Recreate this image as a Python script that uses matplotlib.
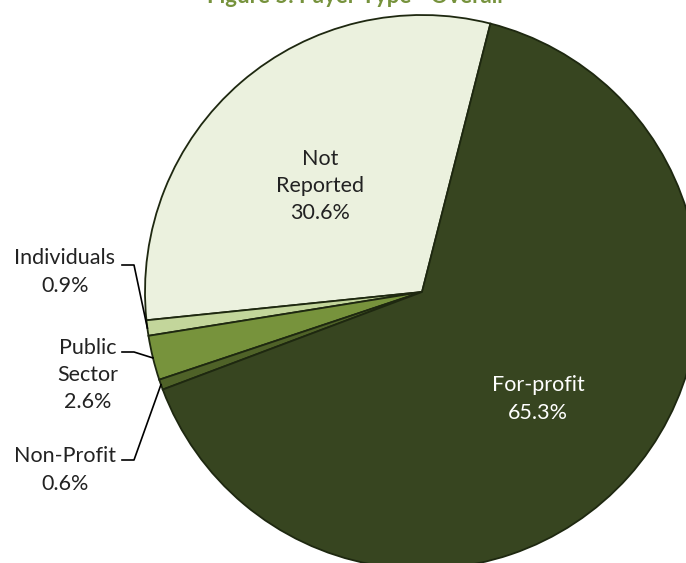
import matplotlib.pyplot as plt
import numpy as np

# Payer type shares (%), counter-clockwise from the top
categories = ['Not Reported', 'Individuals', 'Public Sector', 'Non-Profit', 'For-profit']
label_text = ['Not\nReported', 'Individuals', 'Public\nSector', 'Non-Profit', 'For-profit']
shares = [30.6, 0.9, 2.6, 0.6, 65.3]
colors = ['#EBF1DE', '#C3D69B', '#77933C', '#4F6228', '#374520']

W, H = 686, 563
fig = plt.figure(figsize=(W / 100, H / 100), dpi=100)
ax = fig.add_axes([0, 0, 1, 1])

font = 'Lato'
fs = 15.5
ls = 1.45
cx, cy, r = 422, H - 292, 277
start = 75.7

wedges, _ = ax.pie(shares, colors=colors, startangle=start, counterclock=True,
                   center=(cx, cy), radius=r, frame=True,
                   wedgeprops=dict(edgecolor='#1E2810', linewidth=1.3))
ax.set_xlim(0, W)
ax.set_ylim(0, H)
ax.set_aspect('equal')
ax.axis('off')

# inside labels
ax.text(320, H - 186, f'{label_text[0]}\n{shares[0]}%', ha='center', va='center',
        fontsize=fs, family=font, color='#222222', linespacing=ls)
ax.text(538, H - 399, f'{label_text[4]}\n{shares[4]}%', ha='center', va='center',
        fontsize=fs, family=font, color='white', linespacing=ls)

# outside labels with leader lines to the wedge middle
outside = [(1, 65, 272, 265), (2, 88, 375, 352), (3, 65, 470, 460)]
for i, tx, ty, ly in outside:
    w = wedges[i]
    mid = np.deg2rad((w.theta1 + w.theta2) / 2)
    px = cx + r * np.cos(mid)
    py = cy + r * np.sin(mid)
    ax.text(tx, H - ty, f'{label_text[i]}\n{shares[i]}%', ha='center', va='center',
            fontsize=fs, family=font, color='#222222', linespacing=ls)
    ax.plot([122, 134, px], [H - ly, H - ly, py], color='black', lw=1.2)

# title, mostly above the visible area
ax.text(355, H - 3, 'Figure 5. Payer Type - Overall', ha='center', va='baseline',
        fontsize=16, family=font, fontweight='bold', color='#76923C')

fig.savefig('out.png', dpi=100)
